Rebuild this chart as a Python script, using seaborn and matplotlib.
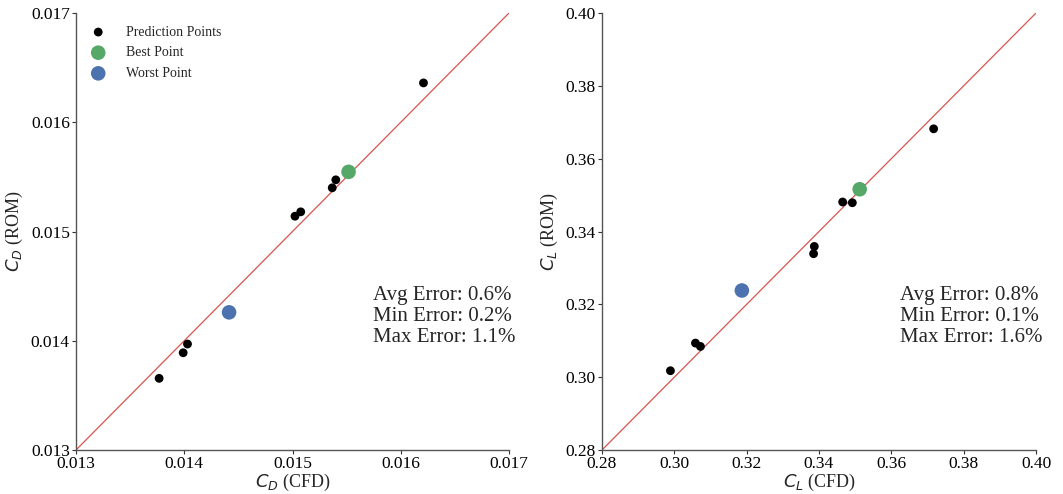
import numpy as np
import pandas as pd
import matplotlib
matplotlib.use("Agg")
import matplotlib.pyplot as plt
import seaborn as sns

# Drag coefficient: CFD reference vs. ROM prediction
cd_cfd = [0.01621, 0.01540, 0.015367, 0.015076, 0.015023, 0.01403, 0.01399, 0.013768]
cd_rom = [0.01636, 0.015473, 0.01540, 0.01518, 0.01514, 0.01397, 0.01389, 0.013656]
cd_best = (0.015518, 0.015546)
cd_worst = (0.014414, 0.01426)

# Lift coefficient: CFD reference vs. ROM prediction
cl_cfd = [0.3717, 0.34922, 0.34654, 0.3387, 0.3385, 0.30722, 0.30584, 0.29892]
cl_rom = [0.3682, 0.3479, 0.3481, 0.3359, 0.3339, 0.30844, 0.30936, 0.30177]
cl_best = (0.35125, 0.3516)
cl_worst = (0.31867, 0.3238)

cd_stats = ["Avg Error: 0.6%", "Min Error: 0.2%", "Max Error: 1.1%"]
cl_stats = ["Avg Error: 0.8%", "Min Error: 0.1%", "Max Error: 1.6%"]

cd_ticks = [0.013, 0.014, 0.015, 0.016, 0.017]
cl_ticks = [0.28, 0.30, 0.32, 0.34, 0.36, 0.38, 0.40]

sns.set_theme(style="ticks")
SERIF = ["Liberation Serif", "DejaVu Serif"]
plt.rcParams["font.family"] = SERIF
plt.rcParams["mathtext.fontset"] = "dejavusans"

green = "#55A868"
blue = "#4C72B0"
red = "#d9534f"

fig = plt.figure(figsize=(10.63, 4.94), dpi=100)
ax1 = fig.add_axes([76 / 1063, 44 / 494, 433 / 1063, 437 / 494])
ax2 = fig.add_axes([602 / 1063, 44 / 494, 434 / 1063, 437 / 494])


def panel(ax, x, y, best, worst, ticks, fmt, xlabel, ylabel, stats, legend):
    lo, hi = ticks[0], ticks[-1]
    ax.plot([lo, hi], [lo, hi], color=red, lw=0.9, zorder=1)
    sns.scatterplot(x=x, y=y, ax=ax, color="black", s=40, edgecolor="none",
                    label="Prediction Points", zorder=3)
    sns.scatterplot(x=[best[0]], y=[best[1]], ax=ax, color=green, s=110,
                    edgecolor="none", label="Best Point", zorder=4)
    sns.scatterplot(x=[worst[0]], y=[worst[1]], ax=ax, color=blue, s=110,
                    edgecolor="none", label="Worst Point", zorder=4)
    ax.set_xlim(lo, hi)
    ax.set_ylim(lo, hi)
    ax.set_xticks(ticks)
    ax.set_yticks(ticks)
    labels = [fmt.format(t) for t in ticks]
    ax.set_xticklabels(labels, fontfamily=SERIF, fontsize=12.5)
    ax.set_yticklabels(labels, fontfamily=SERIF, fontsize=12.5)
    ax.tick_params(length=3, width=0.8, pad=1.5, colors="#333333",
                   labelcolor="black")
    ax.set_xlabel(xlabel, fontsize=13, labelpad=0)
    ax.set_ylabel(ylabel, fontsize=13, labelpad=4)
    for s in ["left", "bottom"]:
        ax.spines[s].set_color("#555555")
        ax.spines[s].set_linewidth(1.0)
    sns.despine(ax=ax)
    ax.text(0.686, 0.375, "\n".join(stats), transform=ax.transAxes,
            ha="left", va="top", fontsize=15, linespacing=1.15)
    if legend:
        ax.legend(loc="upper left", frameon=False, fontsize=10,
                  bbox_to_anchor=(0.0, 0.99), handletextpad=1.0,
                  labelspacing=0.55, borderaxespad=0.2)
    else:
        ax.get_legend().remove()


panel(ax1, cd_cfd, cd_rom, cd_best, cd_worst, cd_ticks, "{:.3f}",
      r"$C_D$ (CFD)", r"$C_D$ (ROM)", cd_stats, True)
panel(ax2, cl_cfd, cl_rom, cl_best, cl_worst, cl_ticks, "{:.2f}",
      r"$C_L$ (CFD)", r"$C_L$ (ROM)", cl_stats, False)

fig.savefig("out.png", dpi=100)
